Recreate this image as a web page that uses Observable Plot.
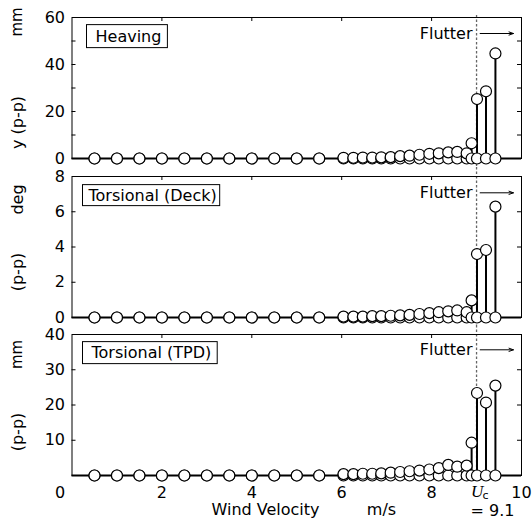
<!DOCTYPE html>
<html><head><meta charset="utf-8">
<script src="https://cdn.jsdelivr.net/npm/d3@7"></script>
<script src="https://cdn.jsdelivr.net/npm/@observablehq/plot@0.6"></script>
<style>
body{margin:0;background:#fff;}
#chart{width:532px;height:519px;}
#chart svg{display:block;overflow:visible;}
</style></head><body><div id="chart"></div>
<script>
// Wind speeds (m/s)
const speeds = [0.5,1.0,1.5,2.0,2.5,3.0,3.5,4.0,4.5,5.0,5.5,
  6.04,6.26,6.47,6.68,6.88,7.09,7.30,7.51,7.73,7.95,8.16,8.37,8.57,8.78,8.89,9.01,9.21,9.42];
// Heaving y (p-p), mm
const heaving = [0,0,0,0,0,0,0,0,0,0,0,
  0.3,0.3,0.4,0.4,0.5,0.6,1.0,1.2,1.6,2.0,2.2,2.6,2.8,2.2,6.5,25.3,28.6,44.7];
// Torsional (Deck) (p-p), deg
const deck = [0,0,0,0,0,0,0,0,0,0,0,
  0.05,0.05,0.05,0.08,0.08,0.1,0.12,0.15,0.2,0.25,0.3,0.35,0.4,0.3,0.97,3.6,3.83,6.29];
// Torsional (TPD) (p-p), mm
const tpd = [0,0,0,0,0,0,0,0,0,0,0,
  0.4,0.4,0.5,0.5,0.6,0.8,1.0,1.2,1.4,1.7,2.1,3.0,2.5,2.8,9.3,23.4,20.7,25.5];

const titles = ["Heaving", "Torsional (Deck)", "Torsional (TPD)"];
const unitLabels = [["mm", "y (p-p)"], ["deg", "(p-p)"], ["mm", "(p-p)"]];
const yDomains = [[0, 60], [0, 8], [0, 40]];
const yTickLabels = [[0, 20, 40, 60], [0, 2, 4, 6, 8], [10, 20, 30, 40]];
const yMinorTicks = [[10, 20, 30, 40, 50], [2, 4, 6], [10, 20, 30]];
const xTickLabels = [2, 4, 6, 8, 10];
const xMinorTicks = [2, 4, 6, 8];
const flutterLine = 9.0;
const flutterText = "Flutter";
const ucValue = "= 9.1";
const xTitle = "Wind Velocity";
const xUnit = "m/s";

// layout (pixels)
const W = 532, ML = 71.5, MR = 11, FH = 141;
const PW = W - ML - MR;
const layout = [
  {height: 167, mt: 17, mb: 9, dashTop: -2, dashBottom: -9, flDy: 16, tDx: 23.5, tDy: 19, pad: [9, 6, 2, 2], uDy: [4.5, 105]},
  {height: 158, mt: 9, mb: 8, dashTop: -9, dashBottom: -8, flDy: 16.3, tDx: 16.5, tDy: 19, pad: [5, 3, 1, 1], uDy: [23, 95.5]},
  {height: 194, mt: 9, mb: 44, dashTop: -9, dashBottom: -6, flDy: 15.3, tDx: 19.5, tDy: 18.5, pad: [8, 6, 1.5, 1.5], uDy: [20, 97.5]}
];
const seriesList = [heaving, deck, tpd];

const chart = document.getElementById("chart");
const txt = {lineAnchor: "middle", fill: "black"};

seriesList.forEach((vals, i) => {
  const L = layout[i];
  const last = i === 2;
  const pts = speeds.map((s, k) => ({speed: s, value: vals[k]}));
  const circles = [];
  pts.forEach(p => { circles.push({speed: p.speed, value: 0}); circles.push({speed: p.speed, value: p.value}); });
  const yMax = yDomains[i][1];
  const arrowY = yMax * (1 - L.flDy / FH);
  const unitStyle = (u) => u === "mm" ? {fontSize: 15, letterSpacing: "-1.5px"} : {fontSize: 16};
  const marks = [
    Plot.ruleX([flutterLine], {x: d => d, stroke: "#666", strokeWidth: 1.3, strokeDasharray: "2.5,2", insetTop: L.dashTop, insetBottom: L.dashBottom}),
    Plot.frame({stroke: "black", strokeWidth: 1}),
    Plot.tickY(yMinorTicks[i], {y: d => d, insetRight: PW - 4, stroke: "black"}),
    Plot.tickY(yMinorTicks[i], {y: d => d, insetLeft: PW - 4, stroke: "black"}),
    Plot.tickX(xMinorTicks, {x: d => d, insetBottom: FH - 4, stroke: "black"}),
    Plot.tickX(xMinorTicks, {x: d => d, insetTop: FH - 4, stroke: "black"}),
    Plot.axisY({ticks: yTickLabels[i], tickSize: 0, tickPadding: 7, label: null, fontSize: 16}),
    Plot.ruleY([0], {y: d => d, stroke: "black", strokeWidth: 2}),
    Plot.ruleX(pts, {x: "speed", y1: 0, y2: "value", stroke: "black", strokeWidth: 2}),
    Plot.dot(circles, {x: "speed", y: "value", r: 5.5, fill: "white", stroke: "black", strokeWidth: 1.2}),
    Plot.text([titles[i]], {...txt, text: d => d, frameAnchor: "top-left", dx: L.tDx, dy: L.tDy, textAnchor: "start", fontSize: 16, className: "ptitle"}),
    Plot.text([flutterLine], {...txt, x: d => d, text: () => flutterText, frameAnchor: "top", dy: L.flDy, dx: -4, textAnchor: "end", fontSize: 16}),
    Plot.arrow([flutterLine], {x1: d => d + 0.08, x2: d => d + 0.82, y1: () => arrowY, y2: () => arrowY, stroke: "black", strokeWidth: 1, headLength: 7, headAngle: 40}),
    Plot.text([unitLabels[i][0]], {...txt, ...unitStyle(unitLabels[i][0]), text: d => d, frameAnchor: "top-left", textAnchor: "middle", dx: -54.5, dy: L.uDy[0], rotate: -90}),
    Plot.text([unitLabels[i][1]], {...txt, text: d => d, frameAnchor: "top-left", textAnchor: "middle", dx: -54.5, dy: L.uDy[1], rotate: -90, fontSize: 16})
  ];
  if (last) {
    marks.push(
      Plot.axisX({ticks: xTickLabels, tickSize: 0, tickPadding: 11, label: null, fontSize: 16}),
      Plot.text([0], {...txt, x: d => d, text: d => String(d), frameAnchor: "bottom", dy: 17, dx: -12, fontSize: 16}),
      Plot.text([xTitle], {...txt, text: d => d, frameAnchor: "bottom-left", textAnchor: "middle", dx: 193.5, dy: 34.5, fontSize: 16}),
      Plot.text([xUnit], {...txt, text: d => d, frameAnchor: "bottom-left", textAnchor: "middle", dx: 309.5, dy: 34.5, fontSize: 16, letterSpacing: "2px"}),
      Plot.text(["U"], {...txt, text: d => d, frameAnchor: "bottom-left", dx: 399, dy: 16.5, textAnchor: "start", fontSize: 17, fontStyle: "italic", fontFamily: "Liberation Serif"}),
      Plot.text(["c"], {...txt, text: d => d, frameAnchor: "bottom-left", dx: 410.5, dy: 20, textAnchor: "start", fontSize: 11}),
      Plot.text([ucValue], {...txt, text: d => d, frameAnchor: "bottom-left", dx: 398.5, dy: 35, textAnchor: "start", fontSize: 16})
    );
  }
  const svg = Plot.plot({
    width: W, height: L.height,
    marginLeft: ML, marginRight: MR, marginTop: L.mt, marginBottom: L.mb,
    x: {domain: [0, 10], axis: last ? undefined : null},
    y: {domain: yDomains[i]},
    style: {fontFamily: "DejaVu Sans", fontSize: "16px", color: "black", background: "transparent", overflow: "visible"},
    marks
  });
  chart.appendChild(svg);
  // boxes around panel titles
  svg.querySelectorAll("g.ptitle text").forEach(t => {
    const b = t.getBBox();
    const [pl, pr, pt, pb] = L.pad;
    const r = document.createElementNS("http://www.w3.org/2000/svg", "rect");
    r.setAttribute("x", b.x - pl);
    r.setAttribute("y", b.y - pt);
    r.setAttribute("width", b.width + pl + pr);
    r.setAttribute("height", b.height + pt + pb);
    r.setAttribute("fill", "white");
    r.setAttribute("stroke", "black");
    r.setAttribute("stroke-width", "1");
    const tr = t.getAttribute("transform");
    if (tr) r.setAttribute("transform", tr);
    t.parentNode.insertBefore(r, t);
  });
});
</script></body></html>
